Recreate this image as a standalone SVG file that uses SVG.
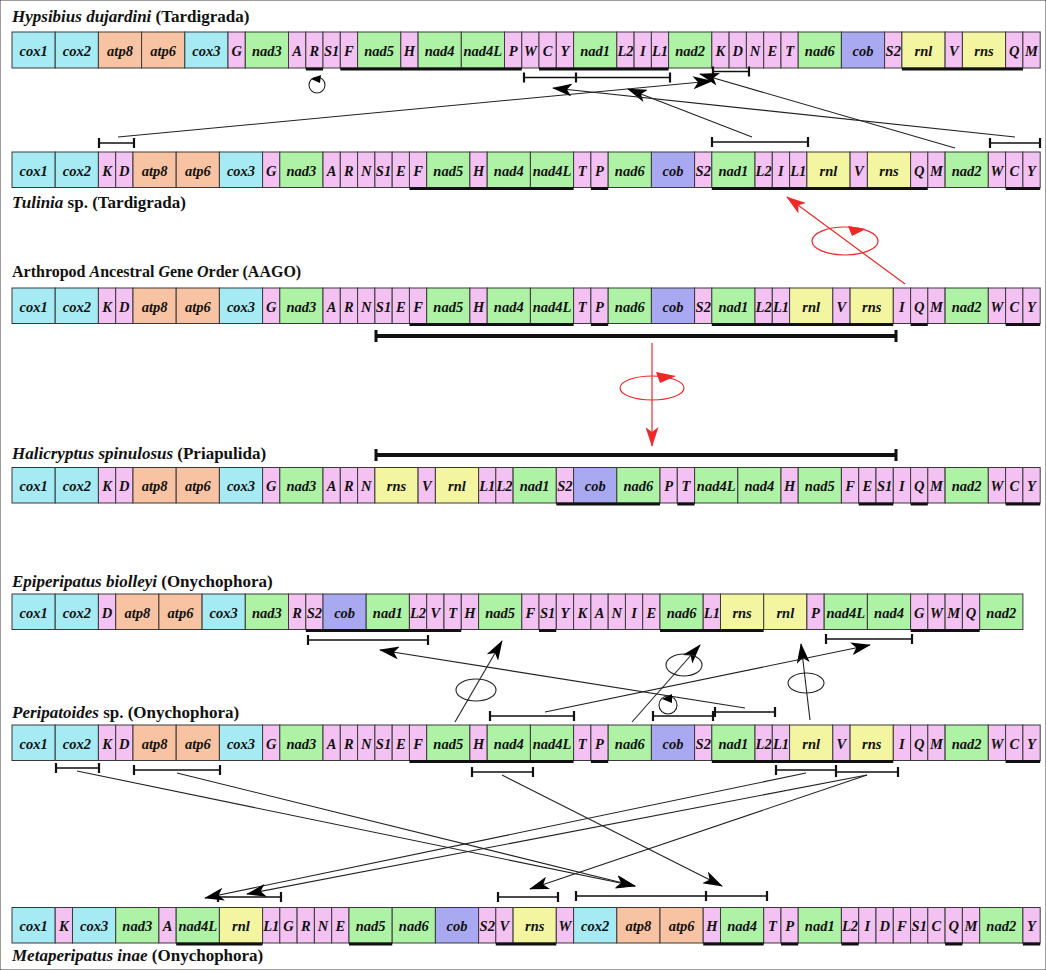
<svg xmlns="http://www.w3.org/2000/svg" width="1046" height="970" viewBox="0 0 1046 970">
<defs>
<style>
rect{stroke:#3a3a3a;stroke-width:1}
.c{fill:#A6EAF4}.a{fill:#F8C3A2}.t{fill:#F4C2F2}.n{fill:#AEF2A6}.b{fill:#A9A9F2}.r{fill:#F4F5A0}
text.g{font-family:"Liberation Serif",serif;font-weight:bold;font-style:italic;font-size:14.5px;text-anchor:middle;fill:#111}
text.ti{font-family:"Liberation Serif",serif;font-weight:bold;font-size:17px;fill:#111}
text.ti2{font-family:"Liberation Serif",serif;font-weight:bold;font-size:16px;fill:#111}
.i{font-style:italic}
.ul{stroke:#111;stroke-width:3;fill:none}
.br{stroke:#111;stroke-width:1.6;fill:none}
.tk{stroke:#111;stroke-width:2.2;fill:none}
.thk{stroke:#111;stroke-width:4;fill:none}
.cn{stroke:#222;stroke-width:1.1;fill:none}
.rd{stroke:#F02828;stroke-width:1.2;fill:none}
</style>
<marker id="ah" viewBox="0 0 20 13" refX="19" refY="6.5" markerWidth="20" markerHeight="13" markerUnits="userSpaceOnUse" orient="auto"><path d="M0,0 L20,6.5 L0,13 L5,6.5 Z" fill="#000"/></marker>
<marker id="ahr" viewBox="0 0 20 13" refX="19" refY="6.5" markerWidth="20" markerHeight="13" markerUnits="userSpaceOnUse" orient="auto"><path d="M0,0 L20,6.5 L0,13 L5,6.5 Z" fill="#F02828"/></marker>
</defs>
<rect width="1046" height="970" fill="#fff" stroke="none"/>

<!-- Titles -->
<text class="ti" x="12" y="22"><tspan class="i">Hypsibius dujardini</tspan> (Tardigrada)</text>
<text class="ti" x="12" y="208"><tspan class="i">Tulinia</tspan> sp. (Tardigrada)</text>
<text class="ti2" x="12" y="277">Arthropod <tspan class="i">A</tspan>ncestral <tspan class="i">G</tspan>ene <tspan class="i">O</tspan>rder (AAGO)</text>
<text class="ti" x="12" y="459"><tspan class="i">Halicryptus spinulosus</tspan> (Priapulida)</text>
<text class="ti" x="12" y="587"><tspan class="i">Epiperipatus biolleyi</tspan> (Onychophora)</text>
<text class="ti" x="12" y="718"><tspan class="i">Peripatoides</tspan> sp. (Onychophora)</text>
<text class="ti" x="12" y="961"><tspan class="i">Metaperipatus inae</tspan> (Onychophora)</text>

<!-- Row 1 Hypsibius -->
<g id="hypsibius">
<g id="hd-cox1" transform="translate(12,32)"><rect class="c" width="43.2" height="36"/><text class="g" x="21.6" y="23.5">cox1</text></g>
<g id="hd-cox2" transform="translate(55.2,32)"><rect class="c" width="43.2" height="36"/><text class="g" x="21.6" y="23.5">cox2</text></g>
<g id="hd-atp8" transform="translate(98.4,32)"><rect class="a" width="43.2" height="36"/><text class="g" x="21.6" y="23.5">atp8</text></g>
<g id="hd-atp6" transform="translate(141.6,32)"><rect class="a" width="43.2" height="36"/><text class="g" x="21.6" y="23.5">atp6</text></g>
<g id="hd-cox3" transform="translate(184.8,32)"><rect class="c" width="43.2" height="36"/><text class="g" x="21.6" y="23.5">cox3</text></g>
<g id="hd-G" transform="translate(228,32)"><rect class="t" width="17.28" height="36"/><text class="g" x="8.64" y="23.5">G</text></g>
<g id="hd-nad3" transform="translate(245.3,32)"><rect class="n" width="43.2" height="36"/><text class="g" x="21.6" y="23.5">nad3</text></g>
<g id="hd-A" transform="translate(288.5,32)"><rect class="t" width="17.28" height="36"/><text class="g" x="8.64" y="23.5">A</text></g>
<g id="hd-R" transform="translate(305.8,32)"><rect class="t" width="17.28" height="36"/><text class="g" x="8.64" y="23.5">R</text></g>
<g id="hd-S1" transform="translate(323,32)"><rect class="t" width="17.28" height="36"/><text class="g" x="8.64" y="23.5">S1</text></g>
<g id="hd-F" transform="translate(340.3,32)"><rect class="t" width="17.28" height="36"/><text class="g" x="8.64" y="23.5">F</text></g>
<g id="hd-nad5" transform="translate(357.6,32)"><rect class="n" width="43.2" height="36"/><text class="g" x="21.6" y="23.5">nad5</text></g>
<g id="hd-H" transform="translate(400.8,32)"><rect class="t" width="17.28" height="36"/><text class="g" x="8.64" y="23.5">H</text></g>
<g id="hd-nad4" transform="translate(418.1,32)"><rect class="n" width="43.2" height="36"/><text class="g" x="21.6" y="23.5">nad4</text></g>
<g id="hd-nad4L" transform="translate(461.3,32)"><rect class="n" width="43.2" height="36"/><text class="g" x="21.6" y="23.5">nad4L</text></g>
<g id="hd-P" transform="translate(504.5,32)"><rect class="t" width="17.28" height="36"/><text class="g" x="8.64" y="23.5">P</text></g>
<g id="hd-W" transform="translate(521.8,32)"><rect class="t" width="17.28" height="36"/><text class="g" x="8.64" y="23.5">W</text></g>
<g id="hd-C" transform="translate(539,32)"><rect class="t" width="17.28" height="36"/><text class="g" x="8.64" y="23.5">C</text></g>
<g id="hd-Y" transform="translate(556.3,32)"><rect class="t" width="17.28" height="36"/><text class="g" x="8.64" y="23.5">Y</text></g>
<g id="hd-nad1" transform="translate(573.6,32)"><rect class="n" width="43.2" height="36"/><text class="g" x="21.6" y="23.5">nad1</text></g>
<g id="hd-L2" transform="translate(616.8,32)"><rect class="t" width="17.28" height="36"/><text class="g" x="8.64" y="23.5">L2</text></g>
<g id="hd-I" transform="translate(634.1,32)"><rect class="t" width="17.28" height="36"/><text class="g" x="8.64" y="23.5">I</text></g>
<g id="hd-L1" transform="translate(651.4,32)"><rect class="t" width="17.28" height="36"/><text class="g" x="8.64" y="23.5">L1</text></g>
<g id="hd-nad2" transform="translate(668.6,32)"><rect class="n" width="43.2" height="36"/><text class="g" x="21.6" y="23.5">nad2</text></g>
<g id="hd-K" transform="translate(711.8,32)"><rect class="t" width="17.28" height="36"/><text class="g" x="8.64" y="23.5">K</text></g>
<g id="hd-D" transform="translate(729.1,32)"><rect class="t" width="17.28" height="36"/><text class="g" x="8.64" y="23.5">D</text></g>
<g id="hd-N" transform="translate(746.4,32)"><rect class="t" width="17.28" height="36"/><text class="g" x="8.64" y="23.5">N</text></g>
<g id="hd-E" transform="translate(763.7,32)"><rect class="t" width="17.28" height="36"/><text class="g" x="8.64" y="23.5">E</text></g>
<g id="hd-T" transform="translate(781,32)"><rect class="t" width="17.28" height="36"/><text class="g" x="8.64" y="23.5">T</text></g>
<g id="hd-nad6" transform="translate(798.2,32)"><rect class="n" width="43.2" height="36"/><text class="g" x="21.6" y="23.5">nad6</text></g>
<g id="hd-cob" transform="translate(841.4,32)"><rect class="b" width="43.2" height="36"/><text class="g" x="21.6" y="23.5">cob</text></g>
<g id="hd-S2" transform="translate(884.6,32)"><rect class="t" width="17.28" height="36"/><text class="g" x="8.64" y="23.5">S2</text></g>
<g id="hd-rnl" transform="translate(901.9,32)"><rect class="r" width="43.2" height="36"/><text class="g" x="21.6" y="23.5">rnl</text></g>
<g id="hd-V" transform="translate(945.1,32)"><rect class="t" width="17.28" height="36"/><text class="g" x="8.64" y="23.5">V</text></g>
<g id="hd-rns" transform="translate(962.4,32)"><rect class="r" width="43.2" height="36"/><text class="g" x="21.6" y="23.5">rns</text></g>
<g id="hd-Q" transform="translate(1005.6,32)"><rect class="t" width="17.28" height="36"/><text class="g" x="8.64" y="23.5">Q</text></g>
<g id="hd-M" transform="translate(1022.9,32)"><rect class="t" width="17.28" height="36"/><text class="g" x="8.64" y="23.5">M</text></g>
<path class="ul" d="M305.8,69H323M340.3,69H521.8M539,69H668.6M901.9,69H1022.9"/>
</g>

<!-- Row 2 Tulinia -->
<g id="tulinia">
<g id="tu-cox1" transform="translate(12,152)"><rect class="c" width="43.2" height="35.5"/><text class="g" x="21.6" y="23.5">cox1</text></g>
<g id="tu-cox2" transform="translate(55.2,152)"><rect class="c" width="43.2" height="35.5"/><text class="g" x="21.6" y="23.5">cox2</text></g>
<g id="tu-K" transform="translate(98.4,152)"><rect class="t" width="17.28" height="35.5"/><text class="g" x="8.64" y="23.5">K</text></g>
<g id="tu-D" transform="translate(115.7,152)"><rect class="t" width="17.28" height="35.5"/><text class="g" x="8.64" y="23.5">D</text></g>
<g id="tu-atp8" transform="translate(133,152)"><rect class="a" width="43.2" height="35.5"/><text class="g" x="21.6" y="23.5">atp8</text></g>
<g id="tu-atp6" transform="translate(176.2,152)"><rect class="a" width="43.2" height="35.5"/><text class="g" x="21.6" y="23.5">atp6</text></g>
<g id="tu-cox3" transform="translate(219.4,152)"><rect class="c" width="43.2" height="35.5"/><text class="g" x="21.6" y="23.5">cox3</text></g>
<g id="tu-G" transform="translate(262.6,152)"><rect class="t" width="17.28" height="35.5"/><text class="g" x="8.64" y="23.5">G</text></g>
<g id="tu-nad3" transform="translate(279.8,152)"><rect class="n" width="43.2" height="35.5"/><text class="g" x="21.6" y="23.5">nad3</text></g>
<g id="tu-A" transform="translate(323,152)"><rect class="t" width="17.28" height="35.5"/><text class="g" x="8.64" y="23.5">A</text></g>
<g id="tu-R" transform="translate(340.3,152)"><rect class="t" width="17.28" height="35.5"/><text class="g" x="8.64" y="23.5">R</text></g>
<g id="tu-N" transform="translate(357.6,152)"><rect class="t" width="17.28" height="35.5"/><text class="g" x="8.64" y="23.5">N</text></g>
<g id="tu-S1" transform="translate(374.9,152)"><rect class="t" width="17.28" height="35.5"/><text class="g" x="8.64" y="23.5">S1</text></g>
<g id="tu-E" transform="translate(392.2,152)"><rect class="t" width="17.28" height="35.5"/><text class="g" x="8.64" y="23.5">E</text></g>
<g id="tu-F" transform="translate(409.4,152)"><rect class="t" width="17.28" height="35.5"/><text class="g" x="8.64" y="23.5">F</text></g>
<g id="tu-nad5" transform="translate(426.7,152)"><rect class="n" width="43.2" height="35.5"/><text class="g" x="21.6" y="23.5">nad5</text></g>
<g id="tu-H" transform="translate(469.9,152)"><rect class="t" width="17.28" height="35.5"/><text class="g" x="8.64" y="23.5">H</text></g>
<g id="tu-nad4" transform="translate(487.2,152)"><rect class="n" width="43.2" height="35.5"/><text class="g" x="21.6" y="23.5">nad4</text></g>
<g id="tu-nad4L" transform="translate(530.4,152)"><rect class="n" width="43.2" height="35.5"/><text class="g" x="21.6" y="23.5">nad4L</text></g>
<g id="tu-T" transform="translate(573.6,152)"><rect class="t" width="17.28" height="35.5"/><text class="g" x="8.64" y="23.5">T</text></g>
<g id="tu-P" transform="translate(590.9,152)"><rect class="t" width="17.28" height="35.5"/><text class="g" x="8.64" y="23.5">P</text></g>
<g id="tu-nad6" transform="translate(608.2,152)"><rect class="n" width="43.2" height="35.5"/><text class="g" x="21.6" y="23.5">nad6</text></g>
<g id="tu-cob" transform="translate(651.4,152)"><rect class="b" width="43.2" height="35.5"/><text class="g" x="21.6" y="23.5">cob</text></g>
<g id="tu-S2" transform="translate(694.6,152)"><rect class="t" width="17.28" height="35.5"/><text class="g" x="8.64" y="23.5">S2</text></g>
<g id="tu-nad1" transform="translate(711.8,152)"><rect class="n" width="43.2" height="35.5"/><text class="g" x="21.6" y="23.5">nad1</text></g>
<g id="tu-L2" transform="translate(755,152)"><rect class="t" width="17.28" height="35.5"/><text class="g" x="8.64" y="23.5">L2</text></g>
<g id="tu-I" transform="translate(772.3,152)"><rect class="t" width="17.28" height="35.5"/><text class="g" x="8.64" y="23.5">I</text></g>
<g id="tu-L1" transform="translate(789.6,152)"><rect class="t" width="17.28" height="35.5"/><text class="g" x="8.64" y="23.5">L1</text></g>
<g id="tu-rnl" transform="translate(806.9,152)"><rect class="r" width="43.2" height="35.5"/><text class="g" x="21.6" y="23.5">rnl</text></g>
<g id="tu-V" transform="translate(850.1,152)"><rect class="t" width="17.28" height="35.5"/><text class="g" x="8.64" y="23.5">V</text></g>
<g id="tu-rns" transform="translate(867.4,152)"><rect class="r" width="43.2" height="35.5"/><text class="g" x="21.6" y="23.5">rns</text></g>
<g id="tu-Q" transform="translate(910.6,152)"><rect class="t" width="17.28" height="35.5"/><text class="g" x="8.64" y="23.5">Q</text></g>
<g id="tu-M" transform="translate(927.8,152)"><rect class="t" width="17.28" height="35.5"/><text class="g" x="8.64" y="23.5">M</text></g>
<g id="tu-nad2" transform="translate(945.1,152)"><rect class="n" width="43.2" height="35.5"/><text class="g" x="21.6" y="23.5">nad2</text></g>
<g id="tu-W" transform="translate(988.3,152)"><rect class="t" width="17.28" height="35.5"/><text class="g" x="8.64" y="23.5">W</text></g>
<g id="tu-C" transform="translate(1005.6,152)"><rect class="t" width="17.28" height="35.5"/><text class="g" x="8.64" y="23.5">C</text></g>
<g id="tu-Y" transform="translate(1022.9,152)"><rect class="t" width="17.28" height="35.5"/><text class="g" x="8.64" y="23.5">Y</text></g>
<path class="ul" d="M409.4,188.5H573.6M590.9,188.5H608.2M711.8,188.5H927.8M1005.6,188.5H1040.2"/>
</g>

<!-- Row 3 AAGO -->
<g id="aago">
<g id="aa-cox1" transform="translate(12,288)"><rect class="c" width="43.2" height="35.5"/><text class="g" x="21.6" y="23.5">cox1</text></g>
<g id="aa-cox2" transform="translate(55.2,288)"><rect class="c" width="43.2" height="35.5"/><text class="g" x="21.6" y="23.5">cox2</text></g>
<g id="aa-K" transform="translate(98.4,288)"><rect class="t" width="17.28" height="35.5"/><text class="g" x="8.64" y="23.5">K</text></g>
<g id="aa-D" transform="translate(115.7,288)"><rect class="t" width="17.28" height="35.5"/><text class="g" x="8.64" y="23.5">D</text></g>
<g id="aa-atp8" transform="translate(133,288)"><rect class="a" width="43.2" height="35.5"/><text class="g" x="21.6" y="23.5">atp8</text></g>
<g id="aa-atp6" transform="translate(176.2,288)"><rect class="a" width="43.2" height="35.5"/><text class="g" x="21.6" y="23.5">atp6</text></g>
<g id="aa-cox3" transform="translate(219.4,288)"><rect class="c" width="43.2" height="35.5"/><text class="g" x="21.6" y="23.5">cox3</text></g>
<g id="aa-G" transform="translate(262.6,288)"><rect class="t" width="17.28" height="35.5"/><text class="g" x="8.64" y="23.5">G</text></g>
<g id="aa-nad3" transform="translate(279.8,288)"><rect class="n" width="43.2" height="35.5"/><text class="g" x="21.6" y="23.5">nad3</text></g>
<g id="aa-A" transform="translate(323,288)"><rect class="t" width="17.28" height="35.5"/><text class="g" x="8.64" y="23.5">A</text></g>
<g id="aa-R" transform="translate(340.3,288)"><rect class="t" width="17.28" height="35.5"/><text class="g" x="8.64" y="23.5">R</text></g>
<g id="aa-N" transform="translate(357.6,288)"><rect class="t" width="17.28" height="35.5"/><text class="g" x="8.64" y="23.5">N</text></g>
<g id="aa-S1" transform="translate(374.9,288)"><rect class="t" width="17.28" height="35.5"/><text class="g" x="8.64" y="23.5">S1</text></g>
<g id="aa-E" transform="translate(392.2,288)"><rect class="t" width="17.28" height="35.5"/><text class="g" x="8.64" y="23.5">E</text></g>
<g id="aa-F" transform="translate(409.4,288)"><rect class="t" width="17.28" height="35.5"/><text class="g" x="8.64" y="23.5">F</text></g>
<g id="aa-nad5" transform="translate(426.7,288)"><rect class="n" width="43.2" height="35.5"/><text class="g" x="21.6" y="23.5">nad5</text></g>
<g id="aa-H" transform="translate(469.9,288)"><rect class="t" width="17.28" height="35.5"/><text class="g" x="8.64" y="23.5">H</text></g>
<g id="aa-nad4" transform="translate(487.2,288)"><rect class="n" width="43.2" height="35.5"/><text class="g" x="21.6" y="23.5">nad4</text></g>
<g id="aa-nad4L" transform="translate(530.4,288)"><rect class="n" width="43.2" height="35.5"/><text class="g" x="21.6" y="23.5">nad4L</text></g>
<g id="aa-T" transform="translate(573.6,288)"><rect class="t" width="17.28" height="35.5"/><text class="g" x="8.64" y="23.5">T</text></g>
<g id="aa-P" transform="translate(590.9,288)"><rect class="t" width="17.28" height="35.5"/><text class="g" x="8.64" y="23.5">P</text></g>
<g id="aa-nad6" transform="translate(608.2,288)"><rect class="n" width="43.2" height="35.5"/><text class="g" x="21.6" y="23.5">nad6</text></g>
<g id="aa-cob" transform="translate(651.4,288)"><rect class="b" width="43.2" height="35.5"/><text class="g" x="21.6" y="23.5">cob</text></g>
<g id="aa-S2" transform="translate(694.6,288)"><rect class="t" width="17.28" height="35.5"/><text class="g" x="8.64" y="23.5">S2</text></g>
<g id="aa-nad1" transform="translate(711.8,288)"><rect class="n" width="43.2" height="35.5"/><text class="g" x="21.6" y="23.5">nad1</text></g>
<g id="aa-L2" transform="translate(755,288)"><rect class="t" width="17.28" height="35.5"/><text class="g" x="8.64" y="23.5">L2</text></g>
<g id="aa-L1" transform="translate(772.3,288)"><rect class="t" width="17.28" height="35.5"/><text class="g" x="8.64" y="23.5">L1</text></g>
<g id="aa-rnl" transform="translate(789.6,288)"><rect class="r" width="43.2" height="35.5"/><text class="g" x="21.6" y="23.5">rnl</text></g>
<g id="aa-V" transform="translate(832.8,288)"><rect class="t" width="17.28" height="35.5"/><text class="g" x="8.64" y="23.5">V</text></g>
<g id="aa-rns" transform="translate(850.1,288)"><rect class="r" width="43.2" height="35.5"/><text class="g" x="21.6" y="23.5">rns</text></g>
<g id="aa-I" transform="translate(893.3,288)"><rect class="t" width="17.28" height="35.5"/><text class="g" x="8.64" y="23.5">I</text></g>
<g id="aa-Q" transform="translate(910.6,288)"><rect class="t" width="17.28" height="35.5"/><text class="g" x="8.64" y="23.5">Q</text></g>
<g id="aa-M" transform="translate(927.8,288)"><rect class="t" width="17.28" height="35.5"/><text class="g" x="8.64" y="23.5">M</text></g>
<g id="aa-nad2" transform="translate(945.1,288)"><rect class="n" width="43.2" height="35.5"/><text class="g" x="21.6" y="23.5">nad2</text></g>
<g id="aa-W" transform="translate(988.3,288)"><rect class="t" width="17.28" height="35.5"/><text class="g" x="8.64" y="23.5">W</text></g>
<g id="aa-C" transform="translate(1005.6,288)"><rect class="t" width="17.28" height="35.5"/><text class="g" x="8.64" y="23.5">C</text></g>
<g id="aa-Y" transform="translate(1022.9,288)"><rect class="t" width="17.28" height="35.5"/><text class="g" x="8.64" y="23.5">Y</text></g>
<path class="ul" d="M409.4,324.5H573.6M590.9,324.5H608.2M711.8,324.5H893.3M910.6,324.5H927.8M1005.6,324.5H1040.2"/>
</g>

<!-- Row 4 Halicryptus -->
<g id="halicryptus">
<g id="hs-cox1" transform="translate(12,467.5)"><rect class="c" width="43.2" height="35.5"/><text class="g" x="21.6" y="23.5">cox1</text></g>
<g id="hs-cox2" transform="translate(55.2,467.5)"><rect class="c" width="43.2" height="35.5"/><text class="g" x="21.6" y="23.5">cox2</text></g>
<g id="hs-K" transform="translate(98.4,467.5)"><rect class="t" width="17.28" height="35.5"/><text class="g" x="8.64" y="23.5">K</text></g>
<g id="hs-D" transform="translate(115.7,467.5)"><rect class="t" width="17.28" height="35.5"/><text class="g" x="8.64" y="23.5">D</text></g>
<g id="hs-atp8" transform="translate(133,467.5)"><rect class="a" width="43.2" height="35.5"/><text class="g" x="21.6" y="23.5">atp8</text></g>
<g id="hs-atp6" transform="translate(176.2,467.5)"><rect class="a" width="43.2" height="35.5"/><text class="g" x="21.6" y="23.5">atp6</text></g>
<g id="hs-cox3" transform="translate(219.4,467.5)"><rect class="c" width="43.2" height="35.5"/><text class="g" x="21.6" y="23.5">cox3</text></g>
<g id="hs-G" transform="translate(262.6,467.5)"><rect class="t" width="17.28" height="35.5"/><text class="g" x="8.64" y="23.5">G</text></g>
<g id="hs-nad3" transform="translate(279.8,467.5)"><rect class="n" width="43.2" height="35.5"/><text class="g" x="21.6" y="23.5">nad3</text></g>
<g id="hs-A" transform="translate(323,467.5)"><rect class="t" width="17.28" height="35.5"/><text class="g" x="8.64" y="23.5">A</text></g>
<g id="hs-R" transform="translate(340.3,467.5)"><rect class="t" width="17.28" height="35.5"/><text class="g" x="8.64" y="23.5">R</text></g>
<g id="hs-N" transform="translate(357.6,467.5)"><rect class="t" width="17.28" height="35.5"/><text class="g" x="8.64" y="23.5">N</text></g>
<g id="hs-rns" transform="translate(374.9,467.5)"><rect class="r" width="43.2" height="35.5"/><text class="g" x="21.6" y="23.5">rns</text></g>
<g id="hs-V" transform="translate(418.1,467.5)"><rect class="t" width="17.28" height="35.5"/><text class="g" x="8.64" y="23.5">V</text></g>
<g id="hs-rnl" transform="translate(435.4,467.5)"><rect class="r" width="43.2" height="35.5"/><text class="g" x="21.6" y="23.5">rnl</text></g>
<g id="hs-L1" transform="translate(478.6,467.5)"><rect class="t" width="17.28" height="35.5"/><text class="g" x="8.64" y="23.5">L1</text></g>
<g id="hs-L2" transform="translate(495.8,467.5)"><rect class="t" width="17.28" height="35.5"/><text class="g" x="8.64" y="23.5">L2</text></g>
<g id="hs-nad1" transform="translate(513.1,467.5)"><rect class="n" width="43.2" height="35.5"/><text class="g" x="21.6" y="23.5">nad1</text></g>
<g id="hs-S2" transform="translate(556.3,467.5)"><rect class="t" width="17.28" height="35.5"/><text class="g" x="8.64" y="23.5">S2</text></g>
<g id="hs-cob" transform="translate(573.6,467.5)"><rect class="b" width="43.2" height="35.5"/><text class="g" x="21.6" y="23.5">cob</text></g>
<g id="hs-nad6" transform="translate(616.8,467.5)"><rect class="n" width="43.2" height="35.5"/><text class="g" x="21.6" y="23.5">nad6</text></g>
<g id="hs-P" transform="translate(660,467.5)"><rect class="t" width="17.28" height="35.5"/><text class="g" x="8.64" y="23.5">P</text></g>
<g id="hs-T" transform="translate(677.3,467.5)"><rect class="t" width="17.28" height="35.5"/><text class="g" x="8.64" y="23.5">T</text></g>
<g id="hs-nad4L" transform="translate(694.6,467.5)"><rect class="n" width="43.2" height="35.5"/><text class="g" x="21.6" y="23.5">nad4L</text></g>
<g id="hs-nad4" transform="translate(737.8,467.5)"><rect class="n" width="43.2" height="35.5"/><text class="g" x="21.6" y="23.5">nad4</text></g>
<g id="hs-H" transform="translate(781,467.5)"><rect class="t" width="17.28" height="35.5"/><text class="g" x="8.64" y="23.5">H</text></g>
<g id="hs-nad5" transform="translate(798.2,467.5)"><rect class="n" width="43.2" height="35.5"/><text class="g" x="21.6" y="23.5">nad5</text></g>
<g id="hs-F" transform="translate(841.4,467.5)"><rect class="t" width="17.28" height="35.5"/><text class="g" x="8.64" y="23.5">F</text></g>
<g id="hs-E" transform="translate(858.7,467.5)"><rect class="t" width="17.28" height="35.5"/><text class="g" x="8.64" y="23.5">E</text></g>
<g id="hs-S1" transform="translate(876,467.5)"><rect class="t" width="17.28" height="35.5"/><text class="g" x="8.64" y="23.5">S1</text></g>
<g id="hs-I" transform="translate(893.3,467.5)"><rect class="t" width="17.28" height="35.5"/><text class="g" x="8.64" y="23.5">I</text></g>
<g id="hs-Q" transform="translate(910.6,467.5)"><rect class="t" width="17.28" height="35.5"/><text class="g" x="8.64" y="23.5">Q</text></g>
<g id="hs-M" transform="translate(927.8,467.5)"><rect class="t" width="17.28" height="35.5"/><text class="g" x="8.64" y="23.5">M</text></g>
<g id="hs-nad2" transform="translate(945.1,467.5)"><rect class="n" width="43.2" height="35.5"/><text class="g" x="21.6" y="23.5">nad2</text></g>
<g id="hs-W" transform="translate(988.3,467.5)"><rect class="t" width="17.28" height="35.5"/><text class="g" x="8.64" y="23.5">W</text></g>
<g id="hs-C" transform="translate(1005.6,467.5)"><rect class="t" width="17.28" height="35.5"/><text class="g" x="8.64" y="23.5">C</text></g>
<g id="hs-Y" transform="translate(1022.9,467.5)"><rect class="t" width="17.28" height="35.5"/><text class="g" x="8.64" y="23.5">Y</text></g>
<path class="ul" d="M556.3,504H660M677.3,504H694.6M858.7,504H893.3M910.6,504H927.8M1005.6,504H1040.2"/>
</g>

<!-- Row 5 Epiperipatus -->
<g id="epiperipatus">
<g id="ep-cox1" transform="translate(12,594)"><rect class="c" width="43.2" height="35.5"/><text class="g" x="21.6" y="23.5">cox1</text></g>
<g id="ep-cox2" transform="translate(55.2,594)"><rect class="c" width="43.2" height="35.5"/><text class="g" x="21.6" y="23.5">cox2</text></g>
<g id="ep-D" transform="translate(98.4,594)"><rect class="t" width="17.28" height="35.5"/><text class="g" x="8.64" y="23.5">D</text></g>
<g id="ep-atp8" transform="translate(115.7,594)"><rect class="a" width="43.2" height="35.5"/><text class="g" x="21.6" y="23.5">atp8</text></g>
<g id="ep-atp6" transform="translate(158.9,594)"><rect class="a" width="43.2" height="35.5"/><text class="g" x="21.6" y="23.5">atp6</text></g>
<g id="ep-cox3" transform="translate(202.1,594)"><rect class="c" width="43.2" height="35.5"/><text class="g" x="21.6" y="23.5">cox3</text></g>
<g id="ep-nad3" transform="translate(245.3,594)"><rect class="n" width="43.2" height="35.5"/><text class="g" x="21.6" y="23.5">nad3</text></g>
<g id="ep-R" transform="translate(288.5,594)"><rect class="t" width="17.28" height="35.5"/><text class="g" x="8.64" y="23.5">R</text></g>
<g id="ep-S2" transform="translate(305.8,594)"><rect class="t" width="17.28" height="35.5"/><text class="g" x="8.64" y="23.5">S2</text></g>
<g id="ep-cob" transform="translate(323,594)"><rect class="b" width="43.2" height="35.5"/><text class="g" x="21.6" y="23.5">cob</text></g>
<g id="ep-nad1" transform="translate(366.2,594)"><rect class="n" width="43.2" height="35.5"/><text class="g" x="21.6" y="23.5">nad1</text></g>
<g id="ep-L2" transform="translate(409.4,594)"><rect class="t" width="17.28" height="35.5"/><text class="g" x="8.64" y="23.5">L2</text></g>
<g id="ep-V" transform="translate(426.7,594)"><rect class="t" width="17.28" height="35.5"/><text class="g" x="8.64" y="23.5">V</text></g>
<g id="ep-T" transform="translate(444,594)"><rect class="t" width="17.28" height="35.5"/><text class="g" x="8.64" y="23.5">T</text></g>
<g id="ep-H" transform="translate(461.3,594)"><rect class="t" width="17.28" height="35.5"/><text class="g" x="8.64" y="23.5">H</text></g>
<g id="ep-nad5" transform="translate(478.6,594)"><rect class="n" width="43.2" height="35.5"/><text class="g" x="21.6" y="23.5">nad5</text></g>
<g id="ep-F" transform="translate(521.8,594)"><rect class="t" width="17.28" height="35.5"/><text class="g" x="8.64" y="23.5">F</text></g>
<g id="ep-S1" transform="translate(539,594)"><rect class="t" width="17.28" height="35.5"/><text class="g" x="8.64" y="23.5">S1</text></g>
<g id="ep-Y" transform="translate(556.3,594)"><rect class="t" width="17.28" height="35.5"/><text class="g" x="8.64" y="23.5">Y</text></g>
<g id="ep-K" transform="translate(573.6,594)"><rect class="t" width="17.28" height="35.5"/><text class="g" x="8.64" y="23.5">K</text></g>
<g id="ep-A" transform="translate(590.9,594)"><rect class="t" width="17.28" height="35.5"/><text class="g" x="8.64" y="23.5">A</text></g>
<g id="ep-N" transform="translate(608.2,594)"><rect class="t" width="17.28" height="35.5"/><text class="g" x="8.64" y="23.5">N</text></g>
<g id="ep-I" transform="translate(625.4,594)"><rect class="t" width="17.28" height="35.5"/><text class="g" x="8.64" y="23.5">I</text></g>
<g id="ep-E" transform="translate(642.7,594)"><rect class="t" width="17.28" height="35.5"/><text class="g" x="8.64" y="23.5">E</text></g>
<g id="ep-nad6" transform="translate(660,594)"><rect class="n" width="43.2" height="35.5"/><text class="g" x="21.6" y="23.5">nad6</text></g>
<g id="ep-L1" transform="translate(703.2,594)"><rect class="t" width="17.28" height="35.5"/><text class="g" x="8.64" y="23.5">L1</text></g>
<g id="ep-rns" transform="translate(720.5,594)"><rect class="r" width="43.2" height="35.5"/><text class="g" x="21.6" y="23.5">rns</text></g>
<g id="ep-rnl" transform="translate(763.7,594)"><rect class="r" width="43.2" height="35.5"/><text class="g" x="21.6" y="23.5">rnl</text></g>
<g id="ep-P" transform="translate(806.9,594)"><rect class="t" width="17.28" height="35.5"/><text class="g" x="8.64" y="23.5">P</text></g>
<g id="ep-nad4L" transform="translate(824.2,594)"><rect class="n" width="43.2" height="35.5"/><text class="g" x="21.6" y="23.5">nad4L</text></g>
<g id="ep-nad4" transform="translate(867.4,594)"><rect class="n" width="43.2" height="35.5"/><text class="g" x="21.6" y="23.5">nad4</text></g>
<g id="ep-G" transform="translate(910.6,594)"><rect class="t" width="17.28" height="35.5"/><text class="g" x="8.64" y="23.5">G</text></g>
<g id="ep-W" transform="translate(927.8,594)"><rect class="t" width="17.28" height="35.5"/><text class="g" x="8.64" y="23.5">W</text></g>
<g id="ep-M" transform="translate(945.1,594)"><rect class="t" width="17.28" height="35.5"/><text class="g" x="8.64" y="23.5">M</text></g>
<g id="ep-Q" transform="translate(962.4,594)"><rect class="t" width="17.28" height="35.5"/><text class="g" x="8.64" y="23.5">Q</text></g>
<g id="ep-nad2" transform="translate(979.7,594)"><rect class="n" width="43.2" height="35.5"/><text class="g" x="21.6" y="23.5">nad2</text></g>
<path class="ul" d="M305.8,630.5H461.3M539,630.5H556.3M660,630.5H763.7M910.6,630.5H979.7"/>
</g>

<!-- Row 6 Peripatoides -->
<g id="peripatoides">
<g id="pe-cox1" transform="translate(12,725)"><rect class="c" width="43.2" height="35.5"/><text class="g" x="21.6" y="23.5">cox1</text></g>
<g id="pe-cox2" transform="translate(55.2,725)"><rect class="c" width="43.2" height="35.5"/><text class="g" x="21.6" y="23.5">cox2</text></g>
<g id="pe-K" transform="translate(98.4,725)"><rect class="t" width="17.28" height="35.5"/><text class="g" x="8.64" y="23.5">K</text></g>
<g id="pe-D" transform="translate(115.7,725)"><rect class="t" width="17.28" height="35.5"/><text class="g" x="8.64" y="23.5">D</text></g>
<g id="pe-atp8" transform="translate(133,725)"><rect class="a" width="43.2" height="35.5"/><text class="g" x="21.6" y="23.5">atp8</text></g>
<g id="pe-atp6" transform="translate(176.2,725)"><rect class="a" width="43.2" height="35.5"/><text class="g" x="21.6" y="23.5">atp6</text></g>
<g id="pe-cox3" transform="translate(219.4,725)"><rect class="c" width="43.2" height="35.5"/><text class="g" x="21.6" y="23.5">cox3</text></g>
<g id="pe-G" transform="translate(262.6,725)"><rect class="t" width="17.28" height="35.5"/><text class="g" x="8.64" y="23.5">G</text></g>
<g id="pe-nad3" transform="translate(279.8,725)"><rect class="n" width="43.2" height="35.5"/><text class="g" x="21.6" y="23.5">nad3</text></g>
<g id="pe-A" transform="translate(323,725)"><rect class="t" width="17.28" height="35.5"/><text class="g" x="8.64" y="23.5">A</text></g>
<g id="pe-R" transform="translate(340.3,725)"><rect class="t" width="17.28" height="35.5"/><text class="g" x="8.64" y="23.5">R</text></g>
<g id="pe-N" transform="translate(357.6,725)"><rect class="t" width="17.28" height="35.5"/><text class="g" x="8.64" y="23.5">N</text></g>
<g id="pe-S1" transform="translate(374.9,725)"><rect class="t" width="17.28" height="35.5"/><text class="g" x="8.64" y="23.5">S1</text></g>
<g id="pe-E" transform="translate(392.2,725)"><rect class="t" width="17.28" height="35.5"/><text class="g" x="8.64" y="23.5">E</text></g>
<g id="pe-F" transform="translate(409.4,725)"><rect class="t" width="17.28" height="35.5"/><text class="g" x="8.64" y="23.5">F</text></g>
<g id="pe-nad5" transform="translate(426.7,725)"><rect class="n" width="43.2" height="35.5"/><text class="g" x="21.6" y="23.5">nad5</text></g>
<g id="pe-H" transform="translate(469.9,725)"><rect class="t" width="17.28" height="35.5"/><text class="g" x="8.64" y="23.5">H</text></g>
<g id="pe-nad4" transform="translate(487.2,725)"><rect class="n" width="43.2" height="35.5"/><text class="g" x="21.6" y="23.5">nad4</text></g>
<g id="pe-nad4L" transform="translate(530.4,725)"><rect class="n" width="43.2" height="35.5"/><text class="g" x="21.6" y="23.5">nad4L</text></g>
<g id="pe-T" transform="translate(573.6,725)"><rect class="t" width="17.28" height="35.5"/><text class="g" x="8.64" y="23.5">T</text></g>
<g id="pe-P" transform="translate(590.9,725)"><rect class="t" width="17.28" height="35.5"/><text class="g" x="8.64" y="23.5">P</text></g>
<g id="pe-nad6" transform="translate(608.2,725)"><rect class="n" width="43.2" height="35.5"/><text class="g" x="21.6" y="23.5">nad6</text></g>
<g id="pe-cob" transform="translate(651.4,725)"><rect class="b" width="43.2" height="35.5"/><text class="g" x="21.6" y="23.5">cob</text></g>
<g id="pe-S2" transform="translate(694.6,725)"><rect class="t" width="17.28" height="35.5"/><text class="g" x="8.64" y="23.5">S2</text></g>
<g id="pe-nad1" transform="translate(711.8,725)"><rect class="n" width="43.2" height="35.5"/><text class="g" x="21.6" y="23.5">nad1</text></g>
<g id="pe-L2" transform="translate(755,725)"><rect class="t" width="17.28" height="35.5"/><text class="g" x="8.64" y="23.5">L2</text></g>
<g id="pe-L1" transform="translate(772.3,725)"><rect class="t" width="17.28" height="35.5"/><text class="g" x="8.64" y="23.5">L1</text></g>
<g id="pe-rnl" transform="translate(789.6,725)"><rect class="r" width="43.2" height="35.5"/><text class="g" x="21.6" y="23.5">rnl</text></g>
<g id="pe-V" transform="translate(832.8,725)"><rect class="t" width="17.28" height="35.5"/><text class="g" x="8.64" y="23.5">V</text></g>
<g id="pe-rns" transform="translate(850.1,725)"><rect class="r" width="43.2" height="35.5"/><text class="g" x="21.6" y="23.5">rns</text></g>
<g id="pe-I" transform="translate(893.3,725)"><rect class="t" width="17.28" height="35.5"/><text class="g" x="8.64" y="23.5">I</text></g>
<g id="pe-Q" transform="translate(910.6,725)"><rect class="t" width="17.28" height="35.5"/><text class="g" x="8.64" y="23.5">Q</text></g>
<g id="pe-M" transform="translate(927.8,725)"><rect class="t" width="17.28" height="35.5"/><text class="g" x="8.64" y="23.5">M</text></g>
<g id="pe-nad2" transform="translate(945.1,725)"><rect class="n" width="43.2" height="35.5"/><text class="g" x="21.6" y="23.5">nad2</text></g>
<g id="pe-W" transform="translate(988.3,725)"><rect class="t" width="17.28" height="35.5"/><text class="g" x="8.64" y="23.5">W</text></g>
<g id="pe-C" transform="translate(1005.6,725)"><rect class="t" width="17.28" height="35.5"/><text class="g" x="8.64" y="23.5">C</text></g>
<g id="pe-Y" transform="translate(1022.9,725)"><rect class="t" width="17.28" height="35.5"/><text class="g" x="8.64" y="23.5">Y</text></g>
<path class="ul" d="M409.4,761.5H573.6M590.9,761.5H608.2M711.8,761.5H893.3M1005.6,761.5H1040.2"/>
</g>

<!-- Row 7 Metaperipatus -->
<g id="metaperipatus">
<g id="mi-cox1" transform="translate(12,907.5)"><rect class="c" width="43.2" height="35.5"/><text class="g" x="21.6" y="23.5">cox1</text></g>
<g id="mi-K" transform="translate(55.2,907.5)"><rect class="t" width="17.28" height="35.5"/><text class="g" x="8.64" y="23.5">K</text></g>
<g id="mi-cox3" transform="translate(72.5,907.5)"><rect class="c" width="43.2" height="35.5"/><text class="g" x="21.6" y="23.5">cox3</text></g>
<g id="mi-nad3" transform="translate(115.7,907.5)"><rect class="n" width="43.2" height="35.5"/><text class="g" x="21.6" y="23.5">nad3</text></g>
<g id="mi-A" transform="translate(158.9,907.5)"><rect class="t" width="17.28" height="35.5"/><text class="g" x="8.64" y="23.5">A</text></g>
<g id="mi-nad4L" transform="translate(176.2,907.5)"><rect class="n" width="43.2" height="35.5"/><text class="g" x="21.6" y="23.5">nad4L</text></g>
<g id="mi-rnl" transform="translate(219.4,907.5)"><rect class="r" width="43.2" height="35.5"/><text class="g" x="21.6" y="23.5">rnl</text></g>
<g id="mi-L1" transform="translate(262.6,907.5)"><rect class="t" width="17.28" height="35.5"/><text class="g" x="8.64" y="23.5">L1</text></g>
<g id="mi-G" transform="translate(279.8,907.5)"><rect class="t" width="17.28" height="35.5"/><text class="g" x="8.64" y="23.5">G</text></g>
<g id="mi-R" transform="translate(297.1,907.5)"><rect class="t" width="17.28" height="35.5"/><text class="g" x="8.64" y="23.5">R</text></g>
<g id="mi-N" transform="translate(314.4,907.5)"><rect class="t" width="17.28" height="35.5"/><text class="g" x="8.64" y="23.5">N</text></g>
<g id="mi-E" transform="translate(331.7,907.5)"><rect class="t" width="17.28" height="35.5"/><text class="g" x="8.64" y="23.5">E</text></g>
<g id="mi-nad5" transform="translate(349,907.5)"><rect class="n" width="43.2" height="35.5"/><text class="g" x="21.6" y="23.5">nad5</text></g>
<g id="mi-nad6" transform="translate(392.2,907.5)"><rect class="n" width="43.2" height="35.5"/><text class="g" x="21.6" y="23.5">nad6</text></g>
<g id="mi-cob" transform="translate(435.4,907.5)"><rect class="b" width="43.2" height="35.5"/><text class="g" x="21.6" y="23.5">cob</text></g>
<g id="mi-S2" transform="translate(478.6,907.5)"><rect class="t" width="17.28" height="35.5"/><text class="g" x="8.64" y="23.5">S2</text></g>
<g id="mi-V" transform="translate(495.8,907.5)"><rect class="t" width="17.28" height="35.5"/><text class="g" x="8.64" y="23.5">V</text></g>
<g id="mi-rns" transform="translate(513.1,907.5)"><rect class="r" width="43.2" height="35.5"/><text class="g" x="21.6" y="23.5">rns</text></g>
<g id="mi-W" transform="translate(556.3,907.5)"><rect class="t" width="17.28" height="35.5"/><text class="g" x="8.64" y="23.5">W</text></g>
<g id="mi-cox2" transform="translate(573.6,907.5)"><rect class="c" width="43.2" height="35.5"/><text class="g" x="21.6" y="23.5">cox2</text></g>
<g id="mi-atp8" transform="translate(616.8,907.5)"><rect class="a" width="43.2" height="35.5"/><text class="g" x="21.6" y="23.5">atp8</text></g>
<g id="mi-atp6" transform="translate(660,907.5)"><rect class="a" width="43.2" height="35.5"/><text class="g" x="21.6" y="23.5">atp6</text></g>
<g id="mi-H" transform="translate(703.2,907.5)"><rect class="t" width="17.28" height="35.5"/><text class="g" x="8.64" y="23.5">H</text></g>
<g id="mi-nad4" transform="translate(720.5,907.5)"><rect class="n" width="43.2" height="35.5"/><text class="g" x="21.6" y="23.5">nad4</text></g>
<g id="mi-T" transform="translate(763.7,907.5)"><rect class="t" width="17.28" height="35.5"/><text class="g" x="8.64" y="23.5">T</text></g>
<g id="mi-P" transform="translate(781,907.5)"><rect class="t" width="17.28" height="35.5"/><text class="g" x="8.64" y="23.5">P</text></g>
<g id="mi-nad1" transform="translate(798.2,907.5)"><rect class="n" width="43.2" height="35.5"/><text class="g" x="21.6" y="23.5">nad1</text></g>
<g id="mi-L2" transform="translate(841.4,907.5)"><rect class="t" width="17.28" height="35.5"/><text class="g" x="8.64" y="23.5">L2</text></g>
<g id="mi-I" transform="translate(858.7,907.5)"><rect class="t" width="17.28" height="35.5"/><text class="g" x="8.64" y="23.5">I</text></g>
<g id="mi-D" transform="translate(876,907.5)"><rect class="t" width="17.28" height="35.5"/><text class="g" x="8.64" y="23.5">D</text></g>
<g id="mi-F" transform="translate(893.3,907.5)"><rect class="t" width="17.28" height="35.5"/><text class="g" x="8.64" y="23.5">F</text></g>
<g id="mi-S1" transform="translate(910.6,907.5)"><rect class="t" width="17.28" height="35.5"/><text class="g" x="8.64" y="23.5">S1</text></g>
<g id="mi-C" transform="translate(927.8,907.5)"><rect class="t" width="17.28" height="35.5"/><text class="g" x="8.64" y="23.5">C</text></g>
<g id="mi-Q" transform="translate(945.1,907.5)"><rect class="t" width="17.28" height="35.5"/><text class="g" x="8.64" y="23.5">Q</text></g>
<g id="mi-M" transform="translate(962.4,907.5)"><rect class="t" width="17.28" height="35.5"/><text class="g" x="8.64" y="23.5">M</text></g>
<g id="mi-nad2" transform="translate(979.7,907.5)"><rect class="n" width="43.2" height="35.5"/><text class="g" x="21.6" y="23.5">nad2</text></g>
<g id="mi-Y" transform="translate(1022.9,907.5)"><rect class="t" width="17.28" height="35.5"/><text class="g" x="8.64" y="23.5">Y</text></g>
<path class="ul" d="M176.2,944H262.6M349,944H392.2M495.8,944H556.3M703.2,944H763.7M781,944H798.2M841.4,944H858.7M945.1,944H962.4M1022.9,944H1040.2"/>
</g>

<!-- Connectors, brackets and arrows -->
<g id="connectors">
<path class="br" d="M524,77.5H576M576,77.5H670M713,71.5H749"/>
<path class="tk" d="M524,72.5V82.5M576,72.5V82.5M670,72.5V82.5M713,66.5V76.5M749,66.5V76.5"/>
<path class="br" d="M99,143H134M712,142H808M990,143H1040"/>
<path class="tk" d="M99,138V148M134,138V148M712,137V147M808,137V147M990,138V148M1040,138V148"/>
<path class="thk" d="M376,336H896"/>
<path class="tk" style="stroke-width:3" d="M376,330V342M896,330V342"/>
<path class="thk" d="M376,455H896"/>
<path class="tk" style="stroke-width:3" d="M376,449V461M896,449V461"/>
<path class="br" d="M308,640H428M826,639H912"/>
<path class="tk" d="M308,635V645M428,635V645M826,634V644M912,634V644"/>
<path class="br" d="M490,716H574M653,716H713M715,712H775"/>
<path class="tk" d="M490,711V721M574,711V721M653,711V721M713,711V721M715,707V717M775,707V717"/>
<path class="br" d="M56,768H99M134,770H220M472,772H533M776,770H836M836,772H898"/>
<path class="tk" d="M56,763V773M99,763V773M134,765V775M220,765V775M472,767V777M533,767V777M776,765V775M836,765V777M898,767V777"/>
<path class="br" d="M218,897H281M498,897H558M576,896H706M706,896H767"/>
<path class="tk" d="M218,892V902M281,892V902M498,892V902M558,892V902M576,891V901M706,891V901M767,891V901"/>

<circle class="cn" cx="317" cy="85" r="8"/>
<path d="M311,79 L321,75 L320,83 Z" fill="#000"/>

<line class="cn" x1="118" y1="137" x2="712" y2="81" marker-end="url(#ah)"/>
<line class="cn" x1="752" y1="137" x2="628" y2="89" marker-end="url(#ah)"/>
<line class="cn" x1="1015" y1="137" x2="553" y2="88" marker-end="url(#ah)"/>
<line class="cn" x1="955" y1="148" x2="700" y2="74" marker-end="url(#ah)"/>

<line class="rd" x1="905" y1="284" x2="787" y2="197" marker-end="url(#ahr)"/>
<ellipse class="rd" cx="845" cy="241" rx="33" ry="14"/>
<path d="M848,226 L866,229 L852,236 Z" fill="#F02828"/>
<line class="rd" x1="652" y1="343" x2="652" y2="446" marker-end="url(#ahr)"/>
<ellipse class="rd" cx="652" cy="388" rx="32" ry="12"/>
<path d="M656,372 L676,376 L660,383 Z" fill="#F02828"/>

<line class="cn" x1="455" y1="722" x2="502" y2="641" marker-end="url(#ah)"/>
<ellipse class="cn" cx="476" cy="690" rx="20" ry="11"/>
<line class="cn" x1="632" y1="722" x2="700" y2="645" marker-end="url(#ah)"/>
<ellipse class="cn" cx="684" cy="665" rx="18" ry="11"/>
<line class="cn" x1="810" y1="720" x2="801" y2="644" marker-end="url(#ah)"/>
<ellipse class="cn" cx="806" cy="683" rx="18" ry="10"/>
<line class="cn" x1="545" y1="712" x2="870" y2="645" marker-end="url(#ah)"/>
<line class="cn" x1="745" y1="708" x2="380" y2="650" marker-end="url(#ah)"/>
<circle class="cn" cx="668" cy="705" r="9"/>
<path d="M662,699 L672,694 L672,703 Z" fill="#000"/>

<line class="cn" x1="77" y1="771" x2="635" y2="886" marker-end="url(#ah)"/>
<line class="cn" x1="177" y1="773" x2="635" y2="886" marker-end="url(#ah)"/>
<line class="cn" x1="502" y1="775" x2="722" y2="886" marker-end="url(#ah)"/>
<line class="cn" x1="806" y1="773" x2="205" y2="898" marker-end="url(#ah)"/>
<line class="cn" x1="867" y1="775" x2="247" y2="894" marker-end="url(#ah)"/>
<line class="cn" x1="867" y1="775" x2="530" y2="889" marker-end="url(#ah)"/>
</g>
</svg>
